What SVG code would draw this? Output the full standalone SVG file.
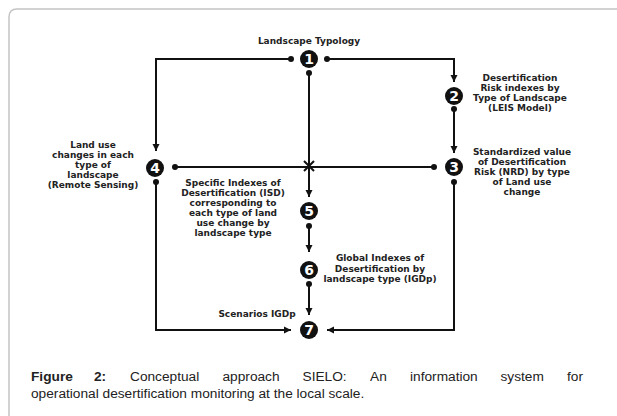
<svg xmlns="http://www.w3.org/2000/svg" width="617" height="416" viewBox="0 0 617 416">
<style>
.node circle{fill:#111}
.num{font-family:"DejaVu Sans",Verdana,sans-serif;font-weight:bold;font-size:14px;fill:#fff;text-anchor:middle}
.lbl{font-family:"DejaVu Sans",Verdana,sans-serif;font-weight:bold;font-size:9px;fill:#222;text-anchor:middle}
.conn path,.conn line{stroke:#111;stroke-width:2;fill:none}
.dot{fill:#111}
.cap{font-family:"Liberation Sans",Arial,sans-serif;font-size:13.7px;fill:#222}
</style>
<defs>
<marker id="arr" markerUnits="userSpaceOnUse" markerWidth="8" markerHeight="8" refX="7" refY="4" orient="auto">
<path d="M0,0.5 L7,4 L0,7.5 z" fill="#111"/>
</marker>
</defs>
<rect width="617" height="416" fill="#fff"/>
<path d="M9,416 V17 Q9,9 17,9 H617" fill="none" stroke="#c4c4c4" stroke-width="1.5"/>
<g id="connectors" class="conn">
<path d="M291,59 H156 V151" marker-end="url(#arr)"/>
<path d="M327,59 H454 V82" marker-end="url(#arr)"/>
<path d="M309,73 V197" marker-end="url(#arr)"/>
<path d="M454,109 V153" marker-end="url(#arr)"/>
<path d="M175,167 H434"/>
<path d="M304,161 L314,171 M314,161 L304,171" stroke-width="1.2"/>
<path d="M156,182 V330 H291" marker-end="url(#arr)"/>
<path d="M454,182 V330 H327" marker-end="url(#arr)"/>
<path d="M309,226 V252" marker-end="url(#arr)"/>
<path d="M309,284 V315" marker-end="url(#arr)"/>
<circle class="dot" cx="291" cy="59" r="3"/>
<circle class="dot" cx="327" cy="59" r="3"/>
<circle class="dot" cx="309" cy="73" r="3"/>
<circle class="dot" cx="454" cy="109" r="3"/>
<circle class="dot" cx="434" cy="167" r="3"/>
<circle class="dot" cx="175" cy="167" r="3"/>
<circle class="dot" cx="156" cy="182" r="3"/>
<circle class="dot" cx="454" cy="182" r="3"/>
<circle class="dot" cx="309" cy="226" r="3"/>
<circle class="dot" cx="309" cy="284" r="3"/>
</g>
<g id="node1" class="node">
<circle cx="309" cy="59" r="9"/>
<text class="num" x="309" y="64">1</text>
<text class="lbl" x="309" y="44">Landscape Typology</text>
</g>
<g id="node2" class="node">
<circle cx="454" cy="96" r="9"/>
<text class="num" x="454" y="101">2</text>
<text class="lbl" x="520" y="81">Desertification</text>
<text class="lbl" x="520" y="91">Risk indexes by</text>
<text class="lbl" x="520" y="101">Type of Landscape</text>
<text class="lbl" x="520" y="111">(LEIS Model)</text>
</g>
<g id="node3" class="node">
<circle cx="454" cy="167" r="9"/>
<text class="num" x="454" y="172">3</text>
<text class="lbl" x="522" y="155">Standardized value</text>
<text class="lbl" x="522" y="165">of Desertification</text>
<text class="lbl" x="522" y="175">Risk (NRD) by type</text>
<text class="lbl" x="522" y="185">of Land use</text>
<text class="lbl" x="522" y="195">change</text>
</g>
<g id="node4" class="node">
<circle cx="155" cy="168" r="9"/>
<text class="num" x="155" y="173">4</text>
<text class="lbl" x="93" y="148">Land use</text>
<text class="lbl" x="93" y="158">changes in each</text>
<text class="lbl" x="93" y="168">type of</text>
<text class="lbl" x="93" y="178">landscape</text>
<text class="lbl" x="93" y="188">(Remote Sensing)</text>
</g>
<g id="node5" class="node">
<circle cx="309" cy="211" r="9"/>
<text class="num" x="309" y="216">5</text>
<text class="lbl" x="233" y="186">Specific Indexes of</text>
<text class="lbl" x="233" y="196">Desertification (ISD)</text>
<text class="lbl" x="233" y="206">corresponding to</text>
<text class="lbl" x="233" y="216">each type of land</text>
<text class="lbl" x="233" y="226">use change by</text>
<text class="lbl" x="233" y="236">landscape type</text>
</g>
<g id="node6" class="node">
<circle cx="309" cy="270" r="9"/>
<text class="num" x="309" y="275">6</text>
<text class="lbl" x="380" y="261">Global Indexes of</text>
<text class="lbl" x="380" y="271.5">Desertification by</text>
<text class="lbl" x="380" y="282">landscape type (IGDp)</text>
</g>
<g id="node7" class="node">
<circle cx="309" cy="330" r="9"/>
<text class="num" x="309" y="335">7</text>
<text class="lbl" x="257" y="317">Scenarios IGDp</text>
</g>
<text class="cap" y="381"><tspan x="31" font-weight="bold">Figure</tspan><tspan x="94" font-weight="bold">2:</tspan><tspan x="130">Conceptual</tspan><tspan x="222.5">approach</tspan><tspan x="302.5">SIELO:</tspan><tspan x="370">An</tspan><tspan x="410">information</tspan><tspan x="500.5">system</tspan><tspan x="567">for</tspan></text>
<text class="cap" x="31" y="398">operational desertification monitoring at the local scale.</text>
</svg>
